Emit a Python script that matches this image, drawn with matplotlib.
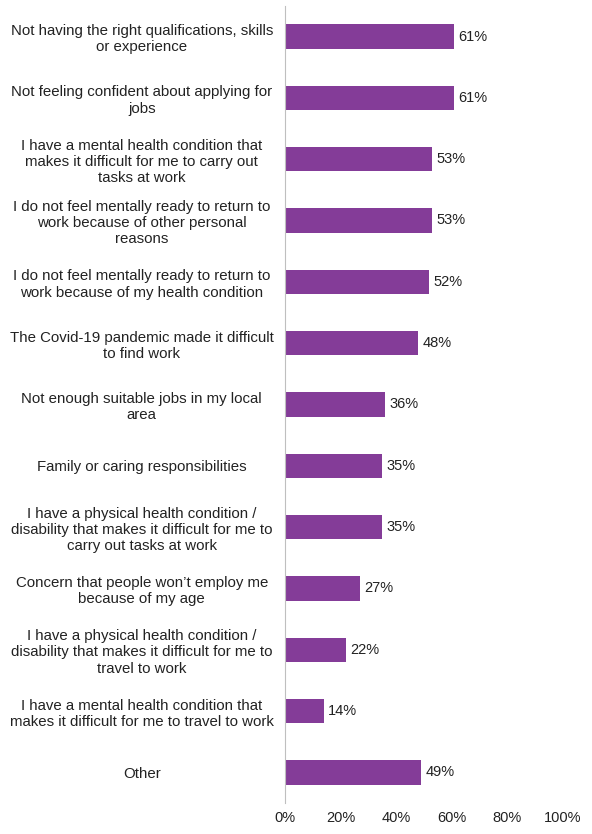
import matplotlib
matplotlib.use("Agg")
import matplotlib.pyplot as plt

categories = [
    "Not having the right qualifications, skills\nor experience",
    "Not feeling confident about applying for\njobs",
    "I have a mental health condition that\nmakes it difficult for me to carry out\ntasks at work",
    "I do not feel mentally ready to return to\nwork because of other personal\nreasons",
    "I do not feel mentally ready to return to\nwork because of my health condition",
    "The Covid-19 pandemic made it difficult\nto find work",
    "Not enough suitable jobs in my local\narea",
    "Family or caring responsibilities",
    "I have a physical health condition /\ndisability that makes it difficult for me to\ncarry out tasks at work",
    "Concern that people won\u2019t employ me\nbecause of my age",
    "I have a physical health condition /\ndisability that makes it difficult for me to\ntravel to work",
    "I have a mental health condition that\nmakes it difficult for me to travel to work",
    "Other",
]
values = [61, 61, 53, 53, 52, 48, 36, 35, 35, 27, 22, 14, 49]
xticks = [0, 20, 40, 60, 80, 100]

plt.rcParams['font.family'] = ['Liberation Sans', 'DejaVu Sans']
fig = plt.figure(figsize=(5.92, 8.34), dpi=100)
ax = fig.add_axes([0.481, 0.037, 0.47, 0.956])
y = list(range(len(categories)))
ax.barh(y, values, height=0.4, color='#843C98')
for yi, v in zip(y, values):
    ax.text(v + 1.5, yi, f"{v}%", va='center', ha='left', fontsize=10.5, color='#222222')
ax.set_ylim(len(categories) - 0.5, -0.5)
ax.set_xlim(0, 100)
ax.set_yticks(y)
ax.set_yticklabels(categories, fontsize=10.8, ha='center', color='#222222')
ax.tick_params(axis='y', length=0, pad=103)
ax.set_xticks(xticks)
ax.set_xticklabels([f"{t}%" for t in xticks], fontsize=10.5, color='#222222')
ax.tick_params(axis='x', length=0, pad=6)
for s in ['top', 'right', 'bottom']:
    ax.spines[s].set_visible(False)
ax.spines['left'].set_color('#BFBFBF')
fig.savefig("out.png", dpi=100)
